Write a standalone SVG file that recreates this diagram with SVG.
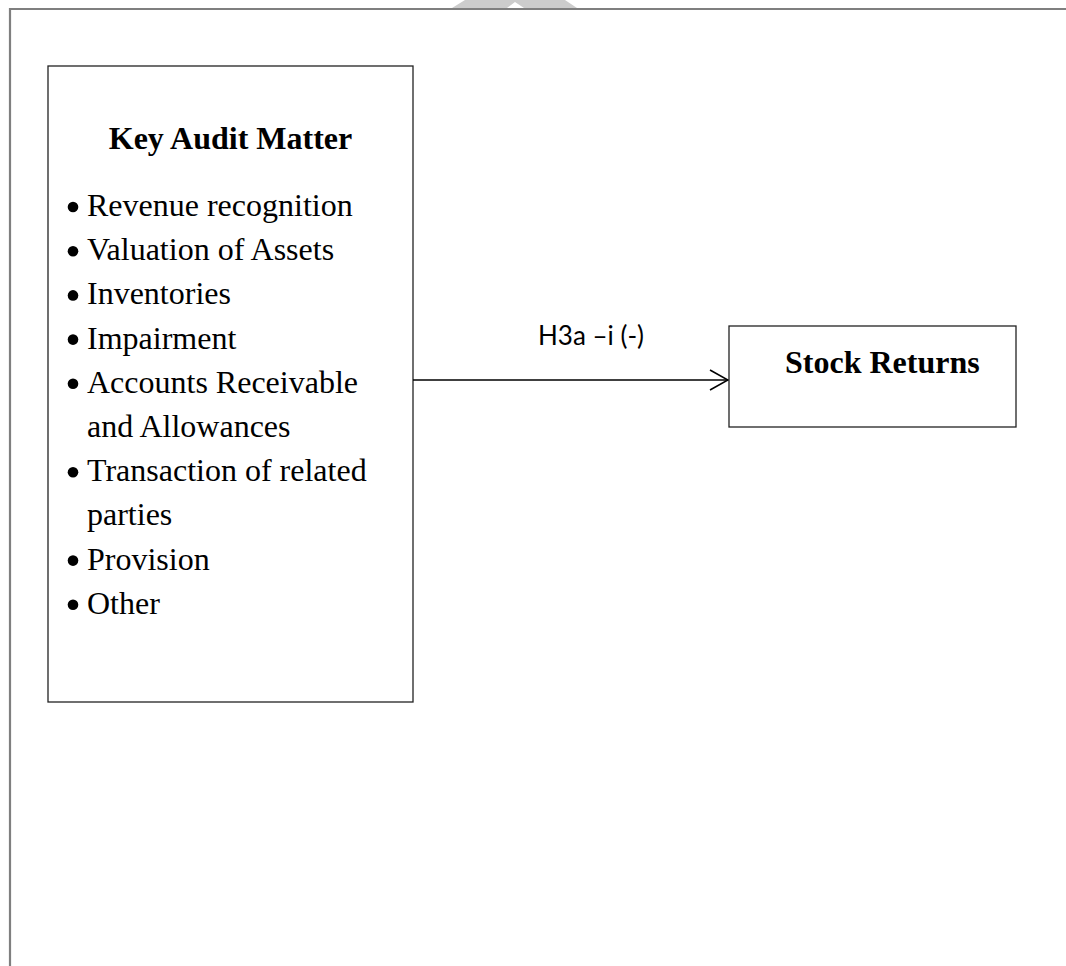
<svg xmlns="http://www.w3.org/2000/svg" width="1066" height="966" viewBox="0 0 1066 966">
<defs>
<style>
.frame{stroke:#7f7f7f;stroke-width:2.2;fill:none}
.box{fill:#fff;stroke:#222;stroke-width:1.3}
.title{font-family:"Liberation Serif","Times New Roman",serif;font-weight:bold;font-size:32px;fill:#000}
.item{font-family:"Liberation Serif","Times New Roman",serif;font-size:32px;fill:#000}
.lbl{font-family:Lato,"Open Sans",sans-serif;font-size:26px;fill:#000}
.conn{stroke:#000;stroke-width:1.6;fill:none}
</style>
<marker id="arr" viewBox="0 0 20 22" refX="19" refY="11" markerWidth="20" markerHeight="22" markerUnits="userSpaceOnUse" orient="auto">
<path d="M1,1 L19,11 L1,21" fill="none" stroke="#000" stroke-width="1.6"/>
</marker>
</defs>
<rect width="1066" height="966" fill="#fff"/>
<path d="M452,8 L465,0 L565,0 L577,8 L524,8 L515,2 L507,8 Z" fill="#cccccc"/>
<path class="frame" d="M10,966 L10,9 L1066,9"/>
<g id="key-audit-matter">
<rect class="box" x="48" y="66" width="365" height="636"/>
<text class="title" x="230.5" y="149" text-anchor="middle">Key Audit Matter</text>
<g class="item">
<circle cx="73" cy="207" r="5.3"/>
<text x="87" y="216">Revenue recognition</text>
<circle cx="73" cy="251.2" r="5.3"/>
<text x="87" y="260.2">Valuation of Assets</text>
<circle cx="73" cy="295.4" r="5.3"/>
<text x="87" y="304.4">Inventories</text>
<circle cx="73" cy="339.6" r="5.3"/>
<text x="87" y="348.6">Impairment</text>
<circle cx="73" cy="383.8" r="5.3"/>
<text x="87" y="392.8">Accounts Receivable</text>
<text x="87" y="437">and Allowances</text>
<circle cx="73" cy="472.2" r="5.3"/>
<text x="87" y="481.2">Transaction of related</text>
<text x="87" y="525.4">parties</text>
<circle cx="73" cy="560.6" r="5.3"/>
<text x="87" y="569.6">Provision</text>
<circle cx="73" cy="604.8" r="5.3"/>
<text x="87" y="613.8">Other</text>
</g>
</g>
<g id="stock-returns">
<rect class="box" x="729" y="326" width="287" height="101"/>
<text class="title" x="785" y="373">Stock Returns</text>
</g>
<g id="connectors">
<line class="conn" x1="413" y1="380" x2="728" y2="380" marker-end="url(#arr)"/>
<text class="lbl" x="538" y="345">H3a –i (-)</text>
</g>
</svg>
